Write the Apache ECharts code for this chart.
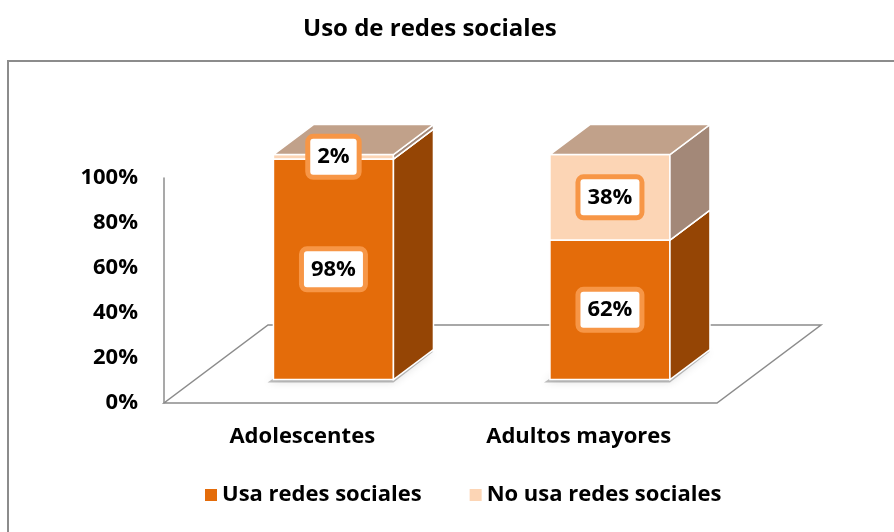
<!DOCTYPE html>
<html>
<head>
<meta charset="utf-8">
<script src="https://cdn.jsdelivr.net/npm/echarts@6/dist/echarts.min.js"></script>
<style>
  html, body { margin: 0; padding: 0; background: #fff; }
  #chart { width: 894px; height: 532px; }
</style>
</head>
<body>
<div id="chart"></div>
<script>
var categories = ['Adolescentes', 'Adultos mayores'];
var usaRedes = [98, 62];
var noUsaRedes = [2, 38];
var yTicks = [0, 20, 40, 60, 80, 100];

var FONT = '"Open Sans", Lato, sans-serif';
var FLOOR_D = [104, -78];      // full depth of the floor
var FRONT = 0.3;               // where the bars' front face sits in the depth
var BAR_D = [40, -30];         // depth of each bar
var frontCol = ['#E46C0A', '#FCD5B5'];
var sideCol = ['#954505', '#A38878'];
var topCol = ['#B5601A', '#C1A18A'];

// stacked rows [cat, low, high]
function stackRows(vals, below) {
  return vals.map(function (v, i) {
    var base = below ? below[i] : 0;
    return [i, base, base + v];
  });
}
var rowsUsa = stackRows(usaRedes);
var rowsNo = stackRows(noUsaRedes, usaRedes);

function barRender(si) {
  return function (params, api) {
    var cat = api.value(0), lo = api.value(1), hi = api.value(2);
    var pLo = api.coord([cat, lo]);
    var pHi = api.coord([cat, hi]);
    var bw = api.size([1, 0])[0] * 0.434;
    var fx = FLOOR_D[0] * FRONT, fy = FLOOR_D[1] * FRONT;
    var x0 = pLo[0] - bw / 2 + fx, x1 = x0 + bw;
    var yb = pLo[1] + fy, yt = pHi[1] + fy;
    var dx = BAR_D[0], dy = BAR_D[1];
    var edge = { stroke: '#fff', lineWidth: 1.5 };
    var kids = [];
    if (lo === 0) {
      kids.push({
        type: 'polygon',
        shape: { points: [[x0 - 6, yb + 3], [x1, yb + 3], [x1 + dx, yb + dy + 2], [x0 + dx, yb + dy + 2]] },
        style: { fill: 'rgba(0,0,0,0.25)', shadowBlur: 8, shadowColor: 'rgba(0,0,0,0.45)' },
        silent: true
      });
    }
    kids.push({
      type: 'polygon',
      shape: { points: [[x0, yb], [x1, yb], [x1, yt], [x0, yt]] },
      style: Object.assign({ fill: frontCol[si] }, edge)
    });
    kids.push({
      type: 'polygon',
      shape: { points: [[x1, yb], [x1 + dx, yb + dy], [x1 + dx, yt + dy], [x1, yt]] },
      style: Object.assign({ fill: sideCol[si] }, edge)
    });
    kids.push({
      type: 'polygon',
      shape: { points: [[x0, yt], [x1, yt], [x1 + dx, yt + dy], [x0 + dx, yt + dy]] },
      style: Object.assign({ fill: topCol[si] }, edge)
    });
    kids.push({
      type: 'text',
      z2: 10,
      style: {
        text: (hi - lo) + '%',
        x: (x0 + x1) / 2,
        y: (yb + yt) / 2,
        align: 'center',
        verticalAlign: 'middle',
        font: 'bold 22px ' + FONT,
        fill: '#000',
        backgroundColor: '#fff',
        borderColor: '#F79646',
        borderWidth: 5,
        borderRadius: 3,
        padding: [8, 7, 6, 7]
      }
    });
    return { type: 'group', children: kids };
  };
}

function floorRender(params, api) {
  var c0 = api.coord([0, 0]);
  var c1 = api.coord([categories.length - 1, 0]);
  var bw = api.size([1, 0])[0];
  var l = c0[0] - bw / 2, r = c1[0] + bw / 2, y = c0[1];
  return {
    type: 'polygon',
    shape: { points: [[l, y], [r, y], [r + FLOOR_D[0], y + FLOOR_D[1]], [l + FLOOR_D[0], y + FLOOR_D[1]]] },
    style: { fill: 'none', stroke: '#8C8C8C', lineWidth: 1.5 },
    silent: true
  };
}

var chart = echarts.init(document.getElementById('chart'));
chart.setOption({
  animation: false,
  title: {
    text: 'Uso de redes sociales',
    left: 298,
    top: 12,
    textStyle: { fontFamily: FONT, fontWeight: 'bold', fontSize: 24, color: '#000' }
  },
  graphic: [{
    type: 'rect',
    shape: { x: 8, y: 61, width: 900, height: 500 },
    style: { fill: 'none', stroke: '#8C8C8C', lineWidth: 2 },
    silent: true
  }],
  legend: {
    bottom: 21,
    left: 200,
    icon: 'rect',
    itemWidth: 12,
    itemHeight: 12,
    itemGap: 48,
    textStyle: { fontFamily: FONT, fontWeight: 'bold', fontSize: 22, color: '#000' },
    data: ['Usa redes sociales', 'No usa redes sociales']
  },
  grid: { left: 164, right: 177, top: 178, bottom: 129 },
  xAxis: {
    type: 'category',
    data: categories,
    axisLine: { show: false },
    axisTick: { show: false },
    axisLabel: { margin: 23, fontFamily: FONT, fontWeight: 'bold', fontSize: 22, color: '#000' }
  },
  yAxis: {
    type: 'value',
    min: yTicks[0],
    max: yTicks[yTicks.length - 1],
    interval: 20,
    splitLine: { show: false },
    axisTick: { show: false },
    axisLine: { show: true, lineStyle: { color: '#8C8C8C', width: 1.5 } },
    axisLabel: { margin: 26, formatter: '{value}%', fontFamily: FONT, fontWeight: 'bold', fontSize: 22, color: '#000' }
  },
  series: [
    {
      type: 'custom',
      name: 'floor',
      renderItem: floorRender,
      data: [[0, 0]],
      z: 1,
      silent: true
    },
    {
      type: 'custom',
      name: 'Usa redes sociales',
      renderItem: barRender(0),
      itemStyle: { color: frontCol[0] },
      data: rowsUsa,
      encode: { x: 0, y: [1, 2] },
      z: 2
    },
    {
      type: 'custom',
      name: 'No usa redes sociales',
      renderItem: barRender(1),
      itemStyle: { color: frontCol[1] },
      data: rowsNo,
      encode: { x: 0, y: [1, 2] },
      z: 3
    }
  ]
});
</script>
</body>
</html>
